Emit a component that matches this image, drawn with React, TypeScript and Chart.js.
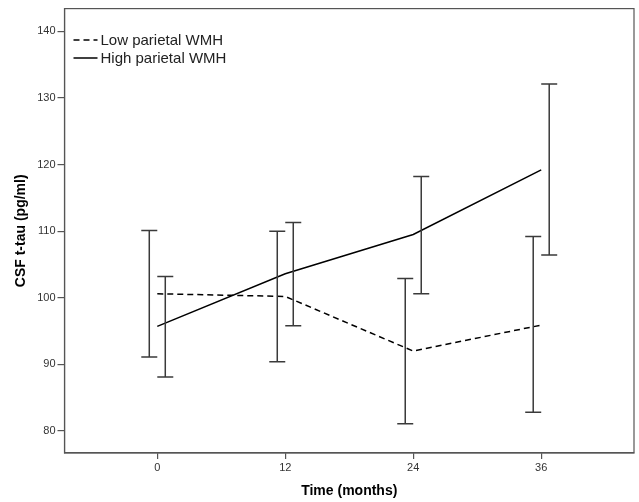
import React, { useEffect, useRef } from "react";
import { Chart, registerables } from "chart.js";
Chart.register(...registerables);

const months = [0, 12, 24, 36];
const seriesNames = ["Low parietal WMH", "High parietal WMH"];
const lowMean = [100.6, 100.2, 92.0, 95.9];
const lowLower = [91.1, 90.4, 81.1, 82.8];
const lowUpper = [110.1, 110.0, 102.9, 109.2];
const highMean = [95.7, 103.6, 109.5, 119.2];
const highLower = [88.1, 95.8, 100.6, 106.4];
const highUpper = [103.2, 111.3, 118.2, 132.1];
const yTicks = [80, 90, 100, 110, 120, 130, 140];
const xTitle = "Time (months)";
const yTitle = "CSF t-tau (pg/ml)";

const FONT = "'Liberation Sans', Arial, Helvetica, sans-serif";
const BAR_OFFSET = 0.75; // months, dodge of error bars
const CAP = 8; // half cap width px

const errorBarPlugin = {
  id: "errorBars",
  afterDatasetsDraw(chart: any) {
    const { ctx, scales } = chart;
    const xs = scales.x;
    const ys = scales.y;
    ctx.save();
    ctx.strokeStyle = "#3a3a3a";
    ctx.lineWidth = 1.5;
    const groups = [
      { lo: lowLower, hi: lowUpper, off: -BAR_OFFSET },
      { lo: highLower, hi: highUpper, off: BAR_OFFSET },
    ];
    groups.forEach((g) => {
      months.forEach((m, i) => {
        const px = xs.getPixelForValue(m + g.off);
        const pLo = ys.getPixelForValue(g.lo[i]);
        const pHi = ys.getPixelForValue(g.hi[i]);
        ctx.beginPath();
        ctx.moveTo(px, pLo);
        ctx.lineTo(px, pHi);
        ctx.moveTo(px - CAP, pLo);
        ctx.lineTo(px + CAP, pLo);
        ctx.moveTo(px - CAP, pHi);
        ctx.lineTo(px + CAP, pHi);
        ctx.stroke();
      });
    });
    ctx.restore();
  },
};

const decorPlugin = {
  id: "decor",
  afterDraw(chart: any) {
    const { ctx, chartArea } = chart;
    const { left, right, top, bottom } = chartArea;
    ctx.save();
    // frame
    ctx.strokeStyle = "#555";
    ctx.lineWidth = 1.2;
    ctx.strokeRect(left, top, right - left, bottom - top);
    // legend
    const ds = chart.data.datasets;
    ctx.font = `15px ${FONT}`;
    ctx.textBaseline = "middle";
    ctx.textAlign = "left";
    ctx.fillStyle = "#222";
    const rows = [40, 58];
    ds.forEach((d: any, i: number) => {
      const y = rows[i];
      ctx.strokeStyle = "#000";
      ctx.lineWidth = 1.5;
      ctx.setLineDash(d.borderDash || []);
      ctx.beginPath();
      ctx.moveTo(left + 9, y);
      ctx.lineTo(left + 33, y);
      ctx.stroke();
      ctx.setLineDash([]);
      ctx.fillText(d.label, left + 36, y + 1);
    });
    // axis titles
    ctx.font = `bold 14px ${FONT}`;
    ctx.fillStyle = "#000";
    ctx.textAlign = "center";
    ctx.textBaseline = "middle";
    ctx.fillText(xTitle, (left + right) / 2, 491.5);
    ctx.translate(21, (top + bottom) / 2);
    ctx.rotate(-Math.PI / 2);
    ctx.fillText(yTitle, 0, 0);
    ctx.restore();
  },
};

export default function App() {
  const ref = useRef<HTMLCanvasElement | null>(null);
  useEffect(() => {
    if (!ref.current) return;
    Chart.defaults.font.family = FONT;
    const chart = new Chart(ref.current, {
      type: "line",
      data: {
        datasets: [
          {
            label: seriesNames[0],
            data: months.map((m, i) => ({ x: m, y: lowMean[i] })),
            borderColor: "#000",
            borderWidth: 1.5,
            borderDash: [6, 4],
            pointRadius: 0,
            fill: false,
            tension: 0,
          },
          {
            label: seriesNames[1],
            data: months.map((m, i) => ({ x: m, y: highMean[i] })),
            borderColor: "#000",
            borderWidth: 1.5,
            pointRadius: 0,
            fill: false,
            tension: 0,
          },
        ],
      },
      options: {
        animation: false,
        responsive: true,
        maintainAspectRatio: false,
        layout: { padding: { left: 0, right: 5, top: 6, bottom: 0 } },
        plugins: { legend: { display: false }, tooltip: { enabled: false } },
        scales: {
          x: {
            type: "linear",
            min: -8.7,
            max: 44.7,
            afterBuildTicks: (s: any) => {
              s.ticks = months.map((v) => ({ value: v }));
            },
            afterFit: (s: any) => {
              s.height = 49;
            },
            grid: { display: true, drawOnChartArea: false, drawTicks: true, tickLength: 6, color: "#555", lineWidth: 1.2 },
            border: { display: true, color: "#555", width: 1.2 },
            ticks: { color: "#333", font: { size: 11 }, padding: 2, maxRotation: 0, autoSkip: false },
          },
          y: {
            type: "linear",
            min: 76.7,
            max: 143.4,
            afterBuildTicks: (s: any) => {
              s.ticks = yTicks.map((v) => ({ value: v }));
            },
            afterFit: (s: any) => {
              s.width = 64.5;
            },
            grid: { display: true, drawOnChartArea: false, drawTicks: true, tickLength: 7, color: "#555", lineWidth: 1.2 },
            border: { display: true, color: "#555", width: 1.2 },
            ticks: { color: "#333", font: { size: 11 }, padding: 2, autoSkip: false },
          },
        },
      },
      plugins: [errorBarPlugin, decorPlugin],
    } as any);
    return () => chart.destroy();
  }, []);
  return (
    <div style={{ position: "absolute", left: 0, top: 0, width: 639, height: 502 }}>
      <canvas ref={ref} />
    </div>
  );
}
